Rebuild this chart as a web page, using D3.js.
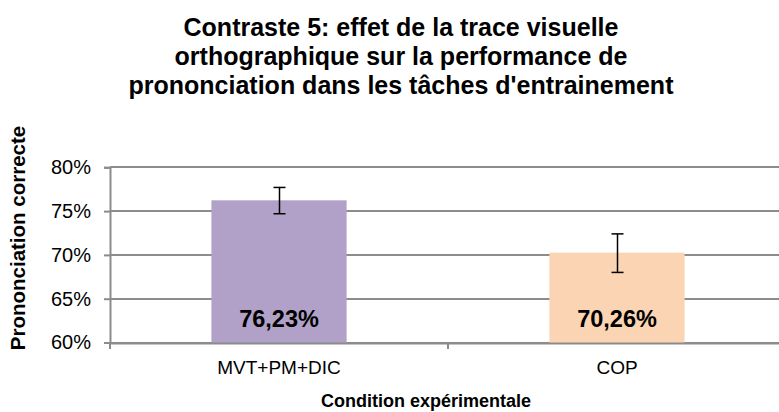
<!DOCTYPE html>
<html>
<head>
<meta charset="utf-8">
<script src="https://cdn.jsdelivr.net/npm/d3@7"></script>
<style>
  body { margin: 0; background: #fff; }
  svg { display: block; font-family: "Liberation Sans", Arial, sans-serif; }
</style>
</head>
<body>
<svg id="chart" width="779" height="412"></svg>
<script>
// Prononciation correcte par condition expérimentale
const categories = ["MVT+PM+DIC", "COP"];
const values = [76.23, 70.26];
const errLow = [74.7, 68.0];
const errHigh = [77.7, 72.4];
const labels = ["76,23%", "70,26%"];
const colors = ["#b1a0c7", "#fad4b3"];
const yTicks = [60, 65, 70, 75, 80];
const titleLines = [
  "Contraste 5: effet de la trace visuelle",
  "orthographique sur la performance de",
  "prononciation dans les tâches d'entrainement"
];

const svg = d3.select("#chart");
const W = 779, H = 412;
const margin = { left: 110, right: -7 };
const gridColor = "#8c8c8c";

const x = d3.scaleBand()
  .domain(categories)
  .range([margin.left, W - margin.right])
  .paddingInner(0.6)
  .paddingOuter(0.3);

const y = d3.scaleLinear().domain([60, 80]).range([342.5, 167.3]);
const y0 = Math.round(y(60));

// gridlines
svg.append("g")
  .selectAll("line")
  .data(yTicks)
  .join("line")
  .attr("x1", margin.left)
  .attr("x2", W - margin.right)
  .attr("y1", d => Math.round(y(d)))
  .attr("y2", d => Math.round(y(d)))
  .attr("stroke", gridColor)
  .attr("stroke-width", 2);

// bars
svg.append("g")
  .selectAll("rect")
  .data(categories)
  .join("rect")
  .attr("x", d => x(d))
  .attr("width", x.bandwidth())
  .attr("y", (d, i) => y(values[i]))
  .attr("height", (d, i) => y0 - y(values[i]))
  .attr("fill", (d, i) => colors[i]);

// y axis
const yAxis = d3.axisLeft(y)
  .tickValues(yTicks)
  .tickSize(6)
  .tickPadding(13)
  .tickFormat(d => d + "%");
const gy = svg.append("g")
  .attr("transform", `translate(${margin.left},0)`)
  .call(yAxis);
gy.select(".domain").attr("stroke", gridColor).attr("stroke-width", 2);
gy.selectAll(".tick line").attr("stroke", gridColor).attr("stroke-width", 2);
gy.selectAll("text").attr("font-size", 20).attr("fill", "#000")
  .attr("font-family", "Liberation Sans, Arial, sans-serif");

// x axis
const bandEdges = [margin.left, margin.left + (W - margin.right - margin.left) / 2, W - margin.right];
const gx = svg.append("g")
  .attr("transform", `translate(0,${y0})`)
  .call(d3.axisBottom(x).tickSize(0).tickPadding(18));
gx.select(".domain").attr("stroke", gridColor).attr("stroke-width", 2);
gx.selectAll("text").attr("font-size", 19).attr("fill", "#000")
  .attr("font-family", "Liberation Sans, Arial, sans-serif");
svg.append("g")
  .selectAll("line")
  .data(bandEdges)
  .join("line")
  .attr("x1", d => Math.round(d))
  .attr("x2", d => Math.round(d))
  .attr("y1", y0)
  .attr("y2", y0 + 6)
  .attr("stroke", gridColor)
  .attr("stroke-width", 2);

// error bars
const eg = svg.append("g").attr("stroke", "#000").attr("stroke-width", 1.5);
categories.forEach((c, i) => {
  const cx = Math.round(x(c) + x.bandwidth() / 2) + 0.5;
  eg.append("line").attr("x1", cx).attr("x2", cx).attr("y1", y(errHigh[i])).attr("y2", y(errLow[i]));
  eg.append("line").attr("x1", cx - 6).attr("x2", cx + 6).attr("y1", y(errHigh[i])).attr("y2", y(errHigh[i]));
  eg.append("line").attr("x1", cx - 6).attr("x2", cx + 6).attr("y1", y(errLow[i])).attr("y2", y(errLow[i]));
});

// value labels
svg.append("g")
  .selectAll("text")
  .data(categories)
  .join("text")
  .attr("x", d => x(d) + x.bandwidth() / 2)
  .attr("y", y0 - 16)
  .attr("text-anchor", "middle")
  .attr("font-size", 23.5)
  .attr("font-weight", "bold")
  .text((d, i) => labels[i]);

// title
svg.append("text")
  .attr("text-anchor", "middle")
  .attr("font-size", 25)
  .attr("font-weight", "bold")
  .selectAll("tspan")
  .data(titleLines)
  .join("tspan")
  .attr("x", 401)
  .attr("y", (d, i) => 36 + i * 29)
  .text(d => d);

// axis titles
svg.append("text")
  .attr("x", 426)
  .attr("y", 407)
  .attr("text-anchor", "middle")
  .attr("font-size", 18)
  .attr("font-weight", "bold")
  .text("Condition expérimentale");

svg.append("text")
  .attr("transform", "translate(25,238) rotate(-90)")
  .attr("text-anchor", "middle")
  .attr("font-size", 20.5)
  .attr("font-weight", "bold")
  .text("Prononciation correcte");
</script>
</body>
</html>
